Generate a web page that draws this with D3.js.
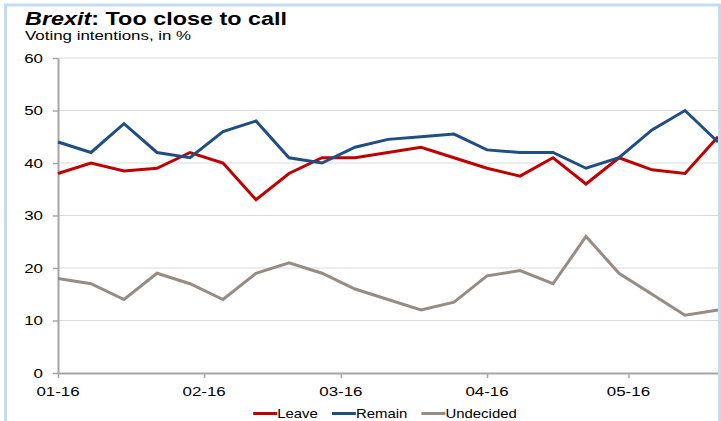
<!DOCTYPE html>
<html>
<head>
<meta charset="utf-8">
<script src="https://cdnjs.cloudflare.com/ajax/libs/d3/7.8.5/d3.min.js"></script>
<style>
  body { margin: 0; background: #fff; }
  text { font-family: "Liberation Sans", Arial, sans-serif; fill: #000; }
</style>
</head>
<body>
<div id="chart"></div>
<script>
// weekly poll dates
var weeks = ["2016-01-01", "2016-01-08", "2016-01-15", "2016-01-22", "2016-01-29",
             "2016-02-05", "2016-02-12", "2016-02-19", "2016-02-26", "2016-03-04",
             "2016-03-11", "2016-03-18", "2016-03-25", "2016-04-01", "2016-04-08",
             "2016-04-15", "2016-04-22", "2016-04-29", "2016-05-06", "2016-05-13",
             "2016-05-20"];

var leave     = [38, 40, 38.5, 39, 42, 40, 33, 38, 41, 41, 42, 43, 41, 39, 37.5, 41, 36, 41, 38.7, 38, 45];
var remain    = [44, 42, 47.5, 42, 41, 46, 48, 41, 40, 43, 44.5, 45, 45.5, 42.5, 42, 42, 39, 41, 46.3, 50, 44];
var undecided = [18, 17, 14, 19, 17, 14, 19, 21, 19, 16, 14, 12, 13.5, 18.5, 19.5, 17, 26, 19, 15, 11, 12];

var monthTicks = ["2016-01-01", "2016-02-01", "2016-03-01", "2016-04-01", "2016-05-01"];
var yTicks = [0, 10, 20, 30, 40, 50, 60];

var seriesNames = ["Leave", "Remain", "Undecided"];
var seriesColors = ["#c00000", "#1f4e85", "#958d85"];
var seriesData = [leave, remain, undecided];

var width = 721, height = 421;
var margin = {top: 58, right: 3, bottom: 48, left: 58};
var stretch = 1.3; // text in the source is a bit wide

var parseDate = d3.timeParse("%Y-%m-%d");
var dates = weeks.map(parseDate);

var svg = d3.select("#chart")
    .append("svg")
    .attr("width", width)
    .attr("height", height);

var xScale = d3.scaleTime()
    .domain([dates[0], dates[dates.length - 1]])
    .range([margin.left, width - margin.right]);

var yScale = d3.scaleLinear()
    .domain([0, 60])
    .range([height - margin.bottom, margin.top]);

// gridlines
svg.append("g")
    .selectAll("line")
    .data(yTicks.filter(function(d) { return d > 0; }))
    .enter().append("line")
    .attr("x1", margin.left)
    .attr("x2", width - margin.right)
    .attr("y1", function(d) { return yScale(d); })
    .attr("y2", function(d) { return yScale(d); })
    .attr("stroke", "#d9d9d9")
    .attr("stroke-width", 1);

// y axis
var yAxis = svg.append("g")
    .attr("transform", "translate(" + margin.left + ",0)")
    .call(d3.axisLeft(yScale).tickValues(yTicks).tickSize(5).tickSizeOuter(0).tickFormat(""));
yAxis.select(".domain").attr("stroke", "#a6a6a6").attr("stroke-width", 2);
yAxis.selectAll(".tick line").attr("stroke", "#a6a6a6").attr("stroke-width", 1.5);

svg.append("g")
    .selectAll("g")
    .data(yTicks)
    .enter().append("g")
    .attr("transform", function(d) { return "translate(" + (margin.left - 15) + "," + yScale(d) + ") scale(" + stretch + ",1)"; })
    .append("text")
    .attr("text-anchor", "end")
    .attr("dy", "0.35em")
    .style("font-size", "13px")
    .text(function(d) { return d; });

// x axis
var xAxis = svg.append("g")
    .attr("transform", "translate(0," + yScale(0) + ")")
    .call(d3.axisBottom(xScale).tickValues(monthTicks.map(parseDate)).tickSize(5).tickSizeOuter(0).tickFormat(""));
xAxis.select(".domain").attr("stroke", "#a6a6a6").attr("stroke-width", 2);
xAxis.selectAll(".tick line").attr("stroke", "#a6a6a6").attr("stroke-width", 1.5);

svg.append("g")
    .selectAll("g")
    .data(monthTicks.map(parseDate))
    .enter().append("g")
    .attr("transform", function(d) { return "translate(" + xScale(d) + "," + (yScale(0) + 23) + ") scale(" + stretch + ",1)"; })
    .append("text")
    .attr("text-anchor", "middle")
    .style("font-size", "13px")
    .text(d3.timeFormat("%m-%y"));

// lines
var line = d3.line()
    .x(function(d, i) { return xScale(dates[i]); })
    .y(function(d) { return yScale(d); });

seriesData.forEach(function(values, k) {
    svg.append("path")
        .datum(values)
        .attr("fill", "none")
        .attr("stroke", seriesColors[k])
        .attr("stroke-width", 3)
        .attr("stroke-linejoin", "miter")
        .attr("d", line);
});

// title
var title = svg.append("g")
    .attr("transform", "translate(25,25) scale(" + stretch + ",1)")
    .append("text")
    .style("font-size", "18px")
    .style("font-weight", "bold");
title.append("tspan").style("font-style", "italic").text("Brexit");
title.append("tspan").text(": Too close to call");

svg.append("g")
    .attr("transform", "translate(25,40) scale(" + stretch + ",1)")
    .append("text")
    .style("font-size", "13px")
    .text("Voting intentions, in %");

// legend
var legendStretch = 1.15;
var legend = svg.append("g");
var lx = 0;
seriesNames.forEach(function(name, k) {
    var item = legend.append("g").attr("transform", "translate(" + lx + ",0)");
    item.append("line")
        .attr("x1", 0).attr("x2", 24)
        .attr("y1", -4.5).attr("y2", -4.5)
        .attr("stroke", seriesColors[k])
        .attr("stroke-width", 3);
    var t = item.append("g")
        .attr("transform", "translate(24,0) scale(" + legendStretch + ",1)")
        .append("text")
        .style("font-size", "13px")
        .text(name);
    lx += 24 + t.node().getComputedTextLength() * legendStretch + 14;
});
lx -= 14;
legend.attr("transform", "translate(" + (385 - lx / 2) + ",418)");

// frame
svg.append("rect")
    .attr("x", 5.5)
    .attr("y", 5)
    .attr("width", 714)
    .attr("height", 440)
    .attr("fill", "none")
    .attr("stroke", "#c5dcf0")
    .attr("stroke-width", 3);
</script>
</body>
</html>
